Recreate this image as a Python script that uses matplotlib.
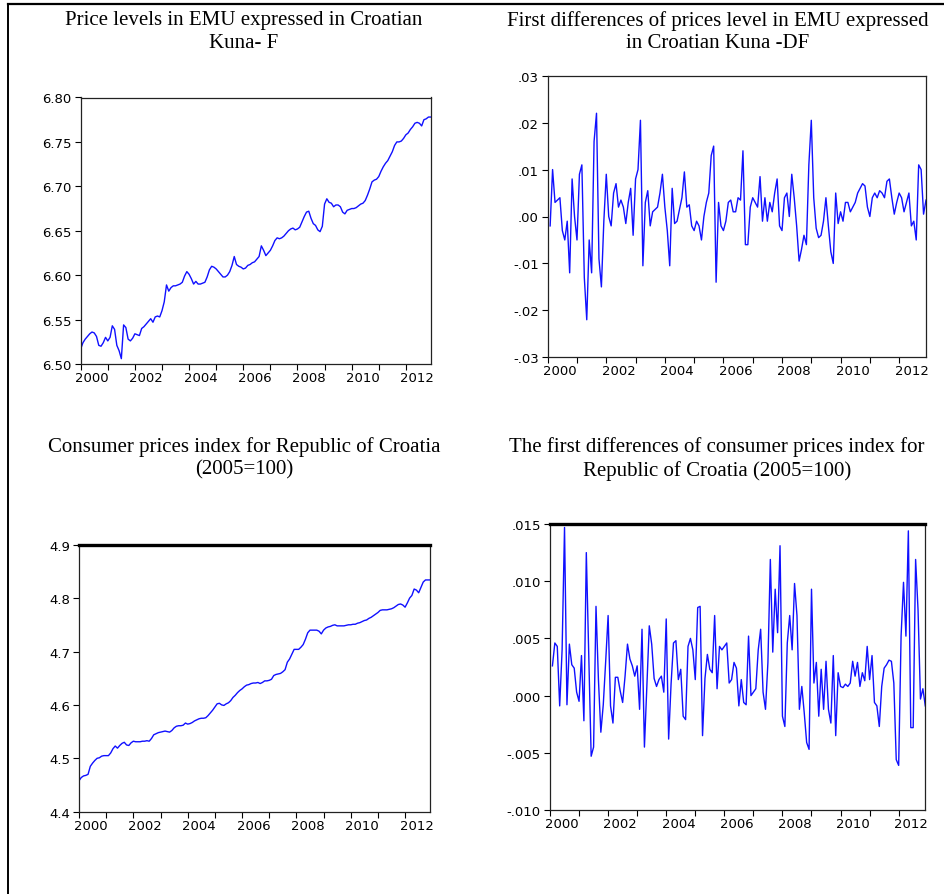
import numpy as np
import matplotlib
matplotlib.use("Agg")
import matplotlib.pyplot as plt
from matplotlib.lines import Line2D

# monthly observations, 2000M01 .. 2012M12
START_YEAR = 2000

# log price level of EUR in kuna (F)
f_level = [
    6.517, 6.524, 6.528, 6.531, 6.534, 6.536, 6.535, 6.531, 6.521, 6.520, 6.524, 6.530,
    6.526, 6.530, 6.543, 6.539, 6.521, 6.515, 6.506, 6.544, 6.541, 6.528, 6.526, 6.529,
    6.534, 6.533, 6.532, 6.540, 6.542, 6.545, 6.548, 6.551, 6.547, 6.553, 6.554, 6.553,
    6.560, 6.570, 6.589, 6.582, 6.586, 6.588, 6.588, 6.589, 6.590, 6.592, 6.599, 6.604,
    6.601, 6.596, 6.590, 6.593, 6.590, 6.590, 6.591, 6.592, 6.598, 6.606, 6.610, 6.609,
    6.607, 6.604, 6.601, 6.598, 6.598, 6.600, 6.604, 6.611, 6.621, 6.612, 6.610, 6.609,
    6.607, 6.608, 6.611, 6.612, 6.614, 6.615, 6.618, 6.621, 6.633, 6.628, 6.622, 6.625,
    6.628, 6.633, 6.639, 6.642, 6.641, 6.642, 6.644, 6.647, 6.650, 6.652, 6.653, 6.651,
    6.652, 6.654, 6.660, 6.666, 6.671, 6.672, 6.664, 6.658, 6.656, 6.651, 6.649, 6.655,
    6.680, 6.686, 6.682, 6.681, 6.677, 6.679, 6.679, 6.677, 6.671, 6.669, 6.673, 6.674,
    6.675, 6.675, 6.676, 6.678, 6.680, 6.681, 6.684, 6.690, 6.697, 6.705, 6.707, 6.708,
    6.711, 6.717, 6.722, 6.726, 6.729, 6.734, 6.739, 6.746, 6.750, 6.750, 6.751, 6.754,
    6.758, 6.760, 6.764, 6.767, 6.771, 6.772, 6.771, 6.768, 6.775, 6.776, 6.778, 6.778,
]

# first differences of F (from 2000M02)
df_diff = [
    -0.002, 0.010, 0.003, 0.0035, 0.004, -0.003, -0.005, -0.001, -0.012, 0.008, 0.000,
    -0.005, 0.009, 0.011, -0.013, -0.022, -0.005, -0.012, 0.016, 0.022, -0.009, -0.015, -0.001,
    0.009, 0.000, -0.002, 0.005, 0.007, 0.002, 0.0035, 0.002, -0.0015, 0.003, 0.006, -0.004,
    0.008, 0.010, 0.0205, -0.0105, 0.003, 0.0055, -0.002, 0.001, 0.0015, 0.002, 0.005, 0.009,
    0.002, -0.003, -0.0105, 0.006, -0.0015, -0.001, 0.0015, 0.004, 0.0095, 0.002, 0.0025, -0.002,
    -0.003, -0.001, -0.002, -0.005, 0.000, 0.003, 0.005, 0.013, 0.015, -0.014, 0.003, -0.002,
    -0.003, -0.001, 0.003, 0.0035, 0.001, 0.001, 0.004, 0.0035, 0.014, -0.006, -0.006, 0.002,
    0.004, 0.003, 0.002, 0.0085, -0.001, 0.004, -0.001, 0.003, 0.001, 0.005, 0.008, -0.002,
    -0.003, 0.004, 0.005, 0.000, 0.009, 0.004, -0.002, -0.0095, -0.007, -0.004, -0.006, 0.011,
    0.0205, 0.004, -0.0025, -0.0045, -0.004, -0.001, 0.004, -0.002, -0.0075, -0.010, 0.005, -0.0015,
    0.001, -0.001, 0.003, 0.003, 0.001, 0.002, 0.003, 0.005, 0.006, 0.007, 0.0065, 0.002,
    0.000, 0.004, 0.005, 0.004, 0.0055, 0.005, 0.004, 0.0075, 0.008, 0.004, 0.0005, 0.003,
    0.005, 0.004, 0.001, 0.003, 0.005, -0.002, -0.001, -0.005, 0.011, 0.010, 0.0005, 0.0035,
]

# log consumer price index (2005=100)
cpi_level = [
    4.458, 4.464, 4.467, 4.468, 4.470, 4.485, 4.491, 4.496, 4.500, 4.501, 4.504, 4.505,
    4.505, 4.505, 4.510, 4.518, 4.523, 4.519, 4.524, 4.528, 4.530, 4.525, 4.524, 4.529,
    4.532, 4.531, 4.531, 4.531, 4.532, 4.532, 4.533, 4.532, 4.537, 4.544, 4.546, 4.548,
    4.549, 4.550, 4.551, 4.550, 4.549, 4.552, 4.557, 4.560, 4.561, 4.561, 4.562, 4.566,
    4.564, 4.565, 4.567, 4.570, 4.572, 4.574, 4.575, 4.575, 4.576, 4.580, 4.585, 4.590,
    4.596, 4.602, 4.603, 4.600, 4.599, 4.602, 4.604, 4.608, 4.614, 4.618, 4.623, 4.627,
    4.630, 4.634, 4.637, 4.638, 4.640, 4.641, 4.641, 4.642, 4.640, 4.642, 4.645, 4.645,
    4.646, 4.648, 4.655, 4.657, 4.658, 4.659, 4.662, 4.666, 4.680, 4.686, 4.695, 4.704,
    4.704, 4.704, 4.708, 4.713, 4.723, 4.735, 4.740, 4.740, 4.740, 4.740, 4.738, 4.733,
    4.740, 4.744, 4.746, 4.747, 4.749, 4.750, 4.748, 4.748, 4.748, 4.748, 4.749, 4.750,
    4.750, 4.751, 4.751, 4.753, 4.754, 4.756, 4.758, 4.759, 4.762, 4.764, 4.767, 4.770,
    4.773, 4.777, 4.778, 4.778, 4.778, 4.779, 4.780, 4.782, 4.785, 4.788, 4.789, 4.787,
    4.783, 4.791, 4.800, 4.805, 4.817, 4.815, 4.810, 4.820, 4.830, 4.834, 4.834, 4.834,
]

# first differences of CPI (from 2000M02)
dcpi_diff = [
    0.0026, 0.0046, 0.0043, -0.0009, 0.0040, 0.0147, -0.0008, 0.0045, 0.0027, 0.0024, 0.0003,
    -0.0005, 0.0035, -0.0022, 0.0125, 0.0035, -0.0053, -0.0045, 0.0078, 0.0014, -0.0032, -0.0008, 0.0030,
    0.0070, -0.0009, -0.0024, 0.0016, 0.0016, 0.0004, -0.0006, 0.0017, 0.0045, 0.0032, 0.0026, 0.0017,
    0.0026, -0.0012, 0.0058, -0.0045, 0.0008, 0.0061, 0.0045, 0.0015, 0.0008, 0.0014, 0.0017, 0.0003,
    0.0067, -0.0038, 0.0010, 0.0046, 0.0048, 0.0014, 0.0023, -0.0018, -0.0021, 0.0043, 0.0050, 0.0040,
    0.0014, 0.0077, 0.0078, -0.0035, 0.0015, 0.0036, 0.0023, 0.0020, 0.0070, 0.0006, 0.0043, 0.0040,
    0.0043, 0.0046, 0.0011, 0.0014, 0.0029, 0.0024, -0.0009, 0.0014, -0.0006, -0.0008, 0.0052, 0.0000,
    0.0003, 0.0006, 0.0040, 0.0058, 0.0003, -0.0012, 0.0029, 0.0119, 0.0038, 0.0093, 0.0055, 0.0131,
    -0.0018, -0.0027, 0.0046, 0.0070, 0.0040, 0.0098, 0.0070, -0.0012, 0.0008, -0.0015, -0.0041, -0.0047,
    0.0093, 0.0011, 0.0029, -0.0018, 0.0023, -0.0012, 0.0030, -0.0012, -0.0024, 0.0035, -0.0035, 0.0020,
    0.0008, 0.0007, 0.0010, 0.0008, 0.0011, 0.0030, 0.0017, 0.0029, 0.0008, 0.0020, 0.0013, 0.0043,
    0.0014, 0.0035, -0.0006, -0.0009, -0.0027, 0.0008, 0.0024, 0.0027, 0.0031, 0.0030, 0.0011, -0.0056,
    -0.0061, 0.0052, 0.0099, 0.0052, 0.0144, -0.0028, -0.0028, 0.0119, 0.0075, -0.0003, 0.0006, -0.0009,
]

titles = [
    "Price levels in EMU expressed in Croatian\nKuna- F",
    "First differences of prices level in EMU expressed\nin Croatian Kuna -DF",
    "Consumer prices index for Republic of Croatia\n(2005=100)",
    "The first differences of consumer prices index for\nRepublic of Croatia (2005=100)",
]

f_ticks = [6.50, 6.55, 6.60, 6.65, 6.70, 6.75, 6.80]
f_labels = ["6.50", "6.55", "6.60", "6.65", "6.70", "6.75", "6.80"]
df_ticks = [-0.03, -0.02, -0.01, 0.00, 0.01, 0.02, 0.03]
df_labels = ["-.03", "-.02", "-.01", ".00", ".01", ".02", ".03"]
cpi_ticks = [4.4, 4.5, 4.6, 4.7, 4.8, 4.9]
cpi_labels = ["4.4", "4.5", "4.6", "4.7", "4.8", "4.9"]
dcpi_ticks = [-0.010, -0.005, 0.000, 0.005, 0.010, 0.015]
dcpi_labels = ["-.010", "-.005", ".000", ".005", ".010", ".015"]

year_labels = ["2000", "2002", "2004", "2006", "2008", "2010", "2012"]

W, H = 944, 895
fig = plt.figure(figsize=(W / 100, H / 100), dpi=100)


def px_axes(x0, y0, x1, y1):
    # pixel box (left, top, right, bottom) -> figure axes
    return fig.add_axes([x0 / W, 1 - y1 / H, (x1 - x0) / W, (y1 - y0) / H])


def style_axes(ax, yticks, ylabels, thick_top=False):
    years = np.arange(START_YEAR, START_YEAR + 13)
    ax.set_xlim(START_YEAR, START_YEAR + 12 + 11 / 12)
    ax.set_xticks(years, labels=[""] * len(years))
    lab_pos = [int(y) + 0.42 for y in year_labels]
    ax.set_xticks(lab_pos, labels=year_labels, minor=True)
    ax.tick_params(axis="x", which="major", direction="out", length=4, width=0.8)
    ax.tick_params(axis="x", which="minor", length=0, pad=5, labelsize=9.5)
    ax.set_yticks(yticks, labels=ylabels)
    ax.set_ylim(yticks[0], yticks[-1])
    ax.tick_params(axis="y", direction="out", length=4.5, width=0.8, pad=2, labelsize=9.5)
    for s in ax.spines.values():
        s.set_linewidth(0.9)
        s.set_color("#222222")
    if thick_top:
        ax.spines["top"].set_linewidth(2.4)
        ax.spines["top"].set_color("black")


line_kw = dict(color="#1010ff", lw=1.0)

t_level = START_YEAR + np.arange(len(f_level)) / 12
t_diff = START_YEAR + np.arange(1, len(df_diff) + 1) / 12

ax1 = px_axes(80.7, 98.5, 430.7, 365)
ax1.plot(t_level, f_level, **line_kw)
style_axes(ax1, f_ticks, f_labels)

ax2 = px_axes(547.7, 76.7, 926, 358.3)
ax2.plot(t_diff, df_diff, **line_kw)
style_axes(ax2, df_ticks, df_labels)

ax3 = px_axes(79, 545.7, 430, 812.7)
ax3.plot(START_YEAR + np.arange(len(cpi_level)) / 12, cpi_level, **line_kw)
style_axes(ax3, cpi_ticks, cpi_labels, thick_top=True)

ax4 = px_axes(550, 525, 925.3, 811)
ax4.plot(START_YEAR + np.arange(1, len(dcpi_diff) + 1) / 12, dcpi_diff, **line_kw)
style_axes(ax4, dcpi_ticks, dcpi_labels, thick_top=True)

title_pos = [(244, 11), (718, 11), (244, 437), (717, 437)]
for (cx, ty), txt in zip(title_pos, titles):
    fig.text(cx / W, 1 - ty / H, txt, ha="center", va="top",
             family="Liberation Serif", fontsize=15, linespacing=1.25)

# outer frame (left and top edges)
fig.add_artist(Line2D([7.5 / W, 7.5 / W], [0, 1 - 4.5 / H], color="black", lw=1.4))
fig.add_artist(Line2D([7.5 / W, 1], [1 - 4.5 / H, 1 - 4.5 / H], color="black", lw=1.6))

fig.savefig("out.png", dpi=100)
